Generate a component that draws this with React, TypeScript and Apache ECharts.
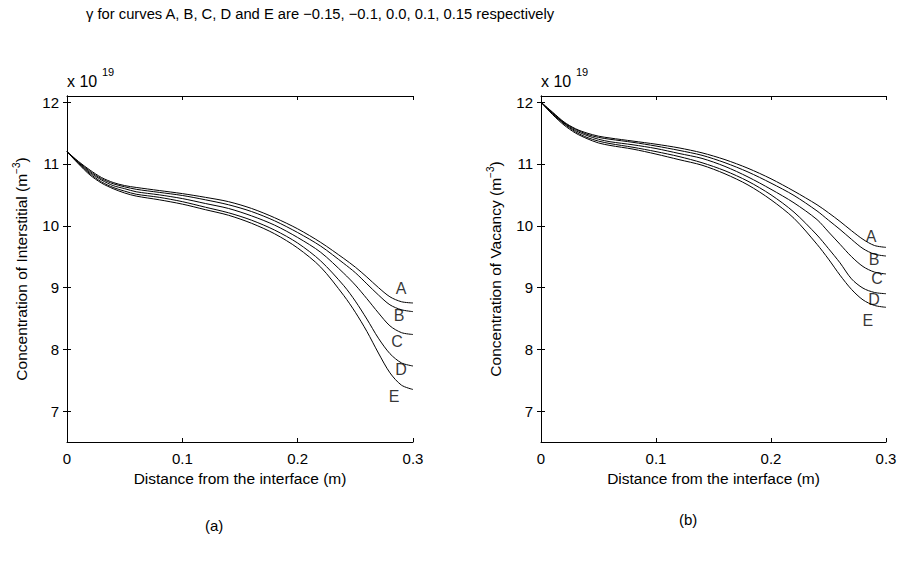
import React, { useEffect, useRef } from "react";
import * as echarts from "echarts";

const FONT = "'Liberation Sans', Arial, Helvetica, sans-serif";

const xs = [0, 0.01, 0.02, 0.03, 0.04, 0.05, 0.06, 0.08, 0.1, 0.12, 0.14, 0.16, 0.18, 0.2, 0.22, 0.24, 0.25, 0.26, 0.27, 0.28, 0.29, 0.3];

const curveNames = ["A", "B", "C", "D", "E"];

// (a) interstitial concentration, units of 1e19 m^-3
const intA = [11.2, 11.04, 10.9, 10.78, 10.7, 10.65, 10.62, 10.57, 10.52, 10.46, 10.39, 10.28, 10.13, 9.95, 9.73, 9.47, 9.33, 9.17, 9.0, 8.85, 8.77, 8.75];
const intB = [11.2, 11.03, 10.88, 10.76, 10.68, 10.63, 10.59, 10.54, 10.49, 10.42, 10.34, 10.23, 10.08, 9.89, 9.67, 9.39, 9.24, 9.06, 8.88, 8.72, 8.64, 8.61];
const intC = [11.2, 11.02, 10.86, 10.74, 10.65, 10.6, 10.55, 10.5, 10.44, 10.36, 10.28, 10.16, 10.01, 9.81, 9.57, 9.23, 9.04, 8.82, 8.59, 8.38, 8.27, 8.24];
const intD = [11.2, 11.01, 10.84, 10.71, 10.62, 10.56, 10.51, 10.46, 10.39, 10.3, 10.21, 10.09, 9.93, 9.72, 9.43, 9.03, 8.78, 8.49, 8.18, 7.93, 7.78, 7.73];
const intE = [11.2, 11.0, 10.82, 10.69, 10.6, 10.53, 10.48, 10.42, 10.35, 10.26, 10.17, 10.04, 9.87, 9.64, 9.33, 8.87, 8.6, 8.29, 7.94, 7.62, 7.42, 7.35];

// (b) vacancy concentration, units of 1e19 m^-3
const vacA = [12.0, 11.84, 11.68, 11.57, 11.5, 11.45, 11.42, 11.37, 11.32, 11.26, 11.18, 11.07, 10.93, 10.76, 10.56, 10.34, 10.21, 10.07, 9.92, 9.78, 9.68, 9.65];
const vacB = [12.0, 11.83, 11.67, 11.56, 11.48, 11.43, 11.4, 11.35, 11.29, 11.22, 11.14, 11.02, 10.87, 10.69, 10.49, 10.24, 10.09, 9.94, 9.78, 9.63, 9.54, 9.51];
const vacC = [12.0, 11.82, 11.66, 11.54, 11.46, 11.4, 11.36, 11.31, 11.25, 11.17, 11.09, 10.96, 10.79, 10.59, 10.37, 10.1, 9.9, 9.7, 9.5, 9.34, 9.25, 9.22];
const vacD = [12.0, 11.81, 11.65, 11.52, 11.43, 11.37, 11.33, 11.27, 11.2, 11.12, 11.02, 10.89, 10.72, 10.5, 10.22, 9.85, 9.63, 9.4, 9.14, 8.99, 8.92, 8.9];
const vacE = [12.0, 11.8, 11.63, 11.5, 11.41, 11.34, 11.3, 11.24, 11.16, 11.07, 10.98, 10.84, 10.66, 10.42, 10.12, 9.7, 9.46, 9.2, 8.97, 8.8, 8.71, 8.68];

// curve label anchor positions [x, y]
const intLabelPos = [[0.2897, 8.99], [0.288, 8.54], [0.2862, 8.13], [0.2897, 7.68], [0.2836, 7.23]];
const vacLabelPos = [[0.287, 9.82], [0.2896, 9.46], [0.2922, 9.14], [0.2896, 8.8], [0.2843, 8.46]];

const xTicks = [0, 0.1, 0.2, 0.3];
const yTicks = [7, 8, 9, 10, 11, 12];

const titleText = "γ for curves A, B, C, D and E are −0.15, −0.1, 0.0, 0.1, 0.15 respectively";

export default function App() {
  const ref = useRef<HTMLDivElement>(null);
  useEffect(() => {
    if (!ref.current) return;
    const chart = echarts.init(ref.current, null, { renderer: "svg" });
    const axisLine = { show: true, lineStyle: { color: "#000", width: 1 } };
    const tickIn = (vals: number[]) => ({ show: true, inside: true, length: 4, lineStyle: { color: "#000" }, customValues: vals });
    const labelStyle = { color: "#000", fontSize: 15, fontFamily: FONT };
    const nameStyle = { color: "#000", fontSize: 15.5, fontFamily: FONT };
    const mkX = (gridIndex: number, top: boolean) => ({
      type: "value",
      gridIndex,
      min: 0,
      max: 0.3,
      position: top ? "top" : "bottom",
      axisLine,
      axisTick: tickIn(xTicks),
      axisLabel: top ? { show: false } : { ...labelStyle, margin: 9, customValues: xTicks, formatter: (v: number) => String(Math.round(v * 10) / 10) },
      splitLine: { show: false },
      name: top ? "" : "Distance from the interface (m)",
      nameLocation: "middle",
      nameGap: 28,
      nameTextStyle: nameStyle,
    });
    const mkY = (gridIndex: number, right: boolean, nm: string) => ({
      type: "value",
      gridIndex,
      min: 6.5,
      max: 12.1,
      position: right ? "right" : "left",
      axisLine,
      axisTick: tickIn(yTicks),
      axisLabel: right ? { show: false } : { ...labelStyle, margin: 8, customValues: yTicks },
      splitLine: { show: false },
      name: right ? "" : nm,
      nameLocation: "middle",
      nameGap: 36,
      nameTextStyle: {
        ...nameStyle,
        rich: { sup: { fontSize: 10, fontFamily: FONT, color: "#000", padding: [0, 0, 10, 0] } },
      },
    });
    const lineSeries = (data: number[], xi: number, yi: number, nm: string) => ({
      type: "line",
      name: nm,
      xAxisIndex: xi,
      yAxisIndex: yi,
      data: xs.map((x, i) => [x, data[i]]),
      showSymbol: false,
      smooth: 0.3,
      lineStyle: { color: "#000", width: 1 },
      silent: true,
    });
    const labelSeries = (pos: number[][], xi: number, yi: number) => ({
      type: "scatter",
      xAxisIndex: xi,
      yAxisIndex: yi,
      symbolSize: 1,
      itemStyle: { color: "rgba(0,0,0,0)" },
      data: pos.map((p, i) => ({ name: curveNames[i], value: p })),
      label: { show: true, position: "inside", formatter: "{b}", color: "#000", fontSize: 16, fontFamily: FONT },
      silent: true,
    });
    const intSeries = [intA, intB, intC, intD, intE];
    const vacSeries = [vacA, vacB, vacC, vacD, vacE];
    const supStyle = { fontSize: 11, fontFamily: FONT, fill: "#000" };
    const txt = { fontSize: 15, fontFamily: FONT, fill: "#000" };
    const big = { fontSize: 16, fontFamily: FONT, fill: "#000" };
    chart.setOption({
      animation: false,
      backgroundColor: "#fff",
      grid: [
        { left: 67, top: 96, width: 346, height: 346 },
        { left: 541, top: 96, width: 345, height: 346 },
      ],
      xAxis: [mkX(0, false), mkX(0, true), mkX(1, false), mkX(1, true)],
      yAxis: [
        mkY(0, false, "Concentration of Interstitial (m{sup|−3})"),
        mkY(0, true, ""),
        mkY(1, false, "Concentration of Vacancy (m{sup|−3})"),
        mkY(1, true, ""),
      ],
      series: [
        ...intSeries.map((d, i) => lineSeries(d, 0, 0, "int" + curveNames[i])),
        ...vacSeries.map((d, i) => lineSeries(d, 2, 2, "vac" + curveNames[i])),
        labelSeries(intLabelPos, 0, 0),
        labelSeries(vacLabelPos, 2, 2),
      ],
      graphic: [
        { type: "text", left: 86, top: 6, style: { text: titleText, fontSize: 14.75, fontFamily: FONT, fill: "#000" } },
        { type: "text", left: 67, top: 73, style: { text: "x 10", ...big } },
        { type: "text", left: 102, top: 66, style: { text: "19", ...supStyle } },
        { type: "text", left: 541, top: 73, style: { text: "x 10", ...big } },
        { type: "text", left: 576, top: 66, style: { text: "19", ...supStyle } },
        { type: "text", left: 205, top: 518, style: { text: "(a)", ...txt } },
        { type: "text", left: 679, top: 512, style: { text: "(b)", ...txt } },
      ],
    });
    return () => chart.dispose();
  }, []);
  return <div ref={ref} style={{ width: 901, height: 574, position: "absolute", left: 0, top: 0 }} />;
}
